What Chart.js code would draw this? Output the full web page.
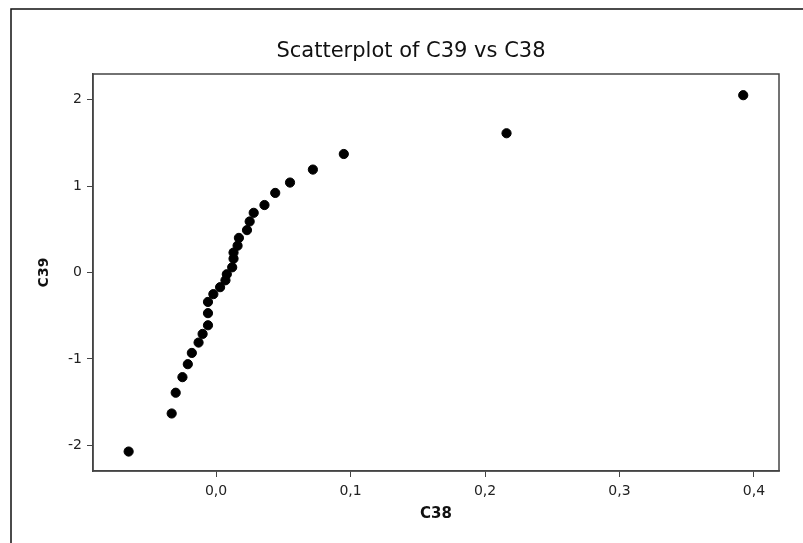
<!DOCTYPE html>
<html>
<head>
<meta charset="utf-8">
<script src="https://cdn.jsdelivr.net/npm/chart.js@4"></script>
<style>
  body { margin: 0; background: #fff; }
</style>
</head>
<body>
<canvas id="chart" width="803" height="543"></canvas>
<script>
// Valores
const c38 = [0.392, 0.216, 0.095, 0.072, 0.055, 0.044, 0.036, 0.028, 0.025, 0.023,
             0.017, 0.016, 0.013, 0.013, 0.012, 0.008, 0.007, 0.003, -0.002, -0.006,
             -0.006, -0.006, -0.010, -0.013, -0.018, -0.021, -0.025, -0.030, -0.033, -0.065];
const c39 = [2.05, 1.61, 1.37, 1.19, 1.04, 0.92, 0.78, 0.69, 0.59, 0.49,
             0.40, 0.31, 0.23, 0.16, 0.06, -0.02, -0.09, -0.17, -0.25, -0.34,
             -0.47, -0.61, -0.71, -0.81, -0.93, -1.06, -1.21, -1.39, -1.63, -2.07];
const xTicks = [0, 0.1, 0.2, 0.3, 0.4];
const yTicks = [-2, -1, 0, 1, 2];
const titleText = 'Scatterplot of C39 vs C38';

const points = c38.map((x, i) => ({ x: x, y: c39[i] }));

// moldura externa, borda da área do gráfico e título
const framePlugin = {
    id: 'frame',
    beforeDraw(chart) {
        const ctx = chart.ctx;
        ctx.save();
        ctx.fillStyle = '#fff';
        ctx.fillRect(0, 0, chart.width, chart.height);
        ctx.strokeStyle = '#111';
        ctx.lineWidth = 1.5;
        ctx.beginPath();
        ctx.moveTo(11, chart.height);
        ctx.lineTo(11, 9);
        ctx.lineTo(chart.width, 9);
        ctx.stroke();
        ctx.restore();
    },
    afterDraw(chart) {
        const ctx = chart.ctx;
        const a = chart.chartArea;
        ctx.save();
        ctx.strokeStyle = '#444';
        ctx.lineWidth = 1.5;
        ctx.strokeRect(a.left, a.top, a.right - a.left, a.bottom - a.top);
        ctx.fillStyle = '#111';
        ctx.font = '21px "DejaVu Sans"';
        ctx.textAlign = 'center';
        ctx.textBaseline = 'alphabetic';
        ctx.fillText(titleText, 411, 57);
        ctx.restore();
    }
};

new Chart(document.getElementById('chart'), {
    type: 'scatter',
    data: {
        datasets: [{
            data: points,
            backgroundColor: '#000',
            borderColor: '#000',
            pointRadius: 4.6,
            pointHoverRadius: 4.6
        }]
    },
    options: {
        responsive: false,
        animation: false,
        layout: { padding: { left: 0, top: 74, right: 24, bottom: 0 } },
        plugins: { legend: { display: false }, tooltip: { enabled: false } },
        scales: {
            x: {
                type: 'linear',
                min: -0.0915,
                max: 0.4186,
                afterBuildTicks: s => { s.ticks = xTicks.map(v => ({ value: v })); },
                afterFit: s => { s.height = 72; },
                grid: { drawOnChartArea: false, drawTicks: true, tickLength: 6, color: '#444', lineWidth: 1 },
                border: { display: true, color: '#444', width: 1.5 },
                ticks: {
                    padding: 6,
                    color: '#222',
                    font: { family: 'DejaVu Sans', size: 14 },
                    callback: v => v.toFixed(1).replace('.', ',')
                },
                title: {
                    display: true,
                    text: 'C38',
                    color: '#111',
                    font: { family: 'DejaVu Sans', size: 15, weight: 'bold' },
                    padding: { top: 0, bottom: 20 }
                }
            },
            y: {
                type: 'linear',
                min: -2.295,
                max: 2.295,
                afterBuildTicks: s => { s.ticks = yTicks.map(v => ({ value: v })); },
                afterFit: s => { s.width = 93; },
                grid: { drawOnChartArea: false, drawTicks: true, tickLength: 6, color: '#444', lineWidth: 1 },
                border: { display: true, color: '#444', width: 1.5 },
                ticks: {
                    padding: 5,
                    color: '#222',
                    font: { family: 'DejaVu Sans', size: 14 },
                    callback: v => String(v)
                },
                title: {
                    display: true,
                    text: 'C39',
                    color: '#111',
                    font: { family: 'DejaVu Sans', size: 14, weight: 'bold' },
                    padding: { top: 36, bottom: 0 }
                }
            }
        }
    },
    plugins: [framePlugin]
});
</script>
</body>
</html>
